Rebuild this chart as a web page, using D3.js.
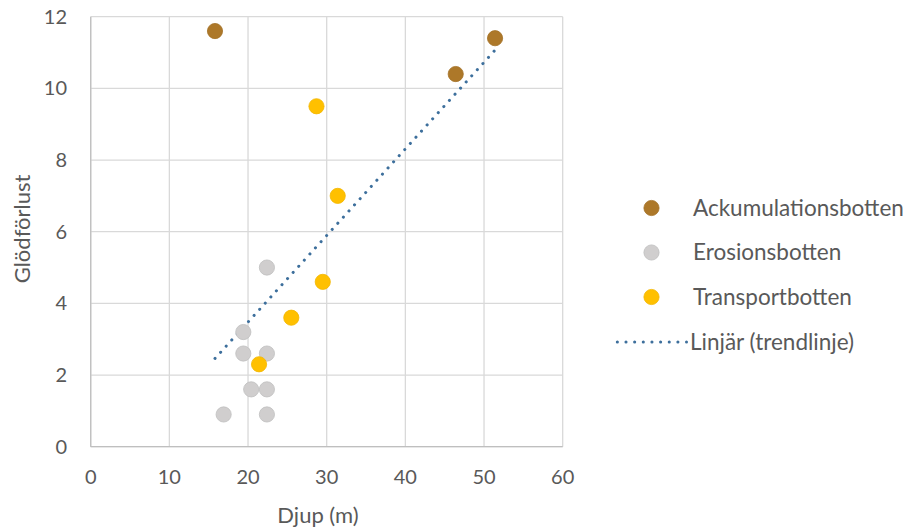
<!DOCTYPE html>
<html>
<head>
<meta charset="utf-8">
<script src="https://cdn.jsdelivr.net/npm/d3@7"></script>
<style>
  html, body { margin: 0; padding: 0; background: #fff; }
  svg { display: block; font-family: Lato, "Open Sans", sans-serif; }
</style>
</head>
<body>
<svg id="chart" width="905" height="529"></svg>
<script>
// Djup (m) and glödförlust per bottentyp
const seriesNames = ["Ackumulationsbotten", "Erosionsbotten", "Transportbotten"];
const ackDepth = [15.8, 46.4, 51.4];
const ackLoss  = [11.6, 10.4, 11.4];
const eroDepth = [22.4, 19.4, 19.4, 22.4, 20.4, 22.4, 16.9, 22.4];
const eroLoss  = [5.0, 3.2, 2.6, 2.6, 1.6, 1.6, 0.9, 0.9];
const traDepth = [28.7, 31.4, 29.5, 25.5, 21.4];
const traLoss  = [9.5, 7.0, 4.6, 3.6, 2.3];
const xTicks = [0, 10, 20, 30, 40, 50, 60];
const yTicks = [0, 2, 4, 6, 8, 10, 12];
const trendLabel = "Linjär (trendlinje)";

const colors = ["#AD7829", "#D0CECE", "#FFC000"];
const strokes = ["#A37127", "#BFBFBF", "#F2B600"];

const svg = d3.select("#chart");
const x = d3.scaleLinear().domain([0, 60]).range([90.7, 562.7]);
const y = d3.scaleLinear().domain([0, 12]).range([446.7, 16.7]);

// gridlines
svg.append("g").selectAll("line.v").data(xTicks).join("line")
  .attr("x1", d => x(d)).attr("x2", d => x(d))
  .attr("y1", y(12)).attr("y2", y(0))
  .attr("stroke", "#D9D9D9").attr("stroke-width", 1.3);
svg.append("g").selectAll("line.h").data(yTicks).join("line")
  .attr("x1", x(0)).attr("x2", x(60))
  .attr("y1", d => y(d)).attr("y2", d => y(d))
  .attr("stroke", "#D9D9D9").attr("stroke-width", 1.3);
// axis lines
svg.append("line").attr("x1", x(0)).attr("x2", x(0)).attr("y1", y(12)).attr("y2", y(0))
  .attr("stroke", "#BFBFBF").attr("stroke-width", 1.3);
svg.append("line").attr("x1", x(0)).attr("x2", x(60)).attr("y1", y(0)).attr("y2", y(0))
  .attr("stroke", "#BFBFBF").attr("stroke-width", 1.3);

// tick labels
const tickFont = 20;
svg.append("g").selectAll("text").data(xTicks).join("text")
  .attr("x", d => x(d)).attr("y", 477).attr("dy", "0.35em")
  .attr("text-anchor", "middle").attr("font-size", tickFont).attr("fill", "#595959")
  .text(d => d);
svg.append("g").selectAll("text").data(yTicks).join("text")
  .attr("x", 67).attr("y", d => y(d)).attr("dy", "0.35em")
  .attr("text-anchor", "end").attr("font-size", tickFont).attr("fill", "#595959")
  .text(d => d);

// axis titles
svg.append("text").attr("x", 318).attr("y", 515).attr("dy", "0.35em")
  .attr("text-anchor", "middle").attr("font-size", 22).attr("fill", "#595959")
  .text("Djup (m)");
svg.append("text").attr("transform", "translate(22,229) rotate(-90)").attr("dy", "0.35em")
  .attr("text-anchor", "middle").attr("font-size", 22).attr("fill", "#595959")
  .text("Glödförlust");

// linear trendline fitted to all points
const allX = ackDepth.concat(eroDepth, traDepth);
const allY = ackLoss.concat(eroLoss, traLoss);
const mx = d3.mean(allX), my = d3.mean(allY);
const slope = d3.sum(allX, (v, i) => (v - mx) * (allY[i] - my)) / d3.sum(allX, v => (v - mx) ** 2);
const icpt = my - slope * mx;
const [x0, x1] = d3.extent(allX);
svg.append("line")
  .attr("x1", x(x0)).attr("y1", y(icpt + slope * x0))
  .attr("x2", x(x1)).attr("y2", y(icpt + slope * x1))
  .attr("stroke", "#3D6F9C").attr("stroke-width", 3)
  .attr("stroke-linecap", "round").attr("stroke-dasharray", "0.1 8.2");

// markers
const groups = [
  { d: ackDepth, v: ackLoss },
  { d: eroDepth, v: eroLoss },
  { d: traDepth, v: traLoss }
];
// draw order: Erosion, Transport, Ackumulation on top
[1, 2, 0].forEach(k => {
  const g = groups[k];
  svg.append("g").selectAll("circle").data(g.d.map((d, i) => [d, g.v[i]])).join("circle")
    .attr("cx", p => x(p[0])).attr("cy", p => y(p[1])).attr("r", 7.6)
    .attr("fill", colors[k]).attr("stroke", strokes[k]).attr("stroke-width", 0.8);
});

// legend
const legY = [208, 252.5, 297, 342];
const legFont = 22.5;
const leg = svg.append("g");
seriesNames.forEach((n, i) => {
  leg.append("circle").attr("cx", 651.5).attr("cy", legY[i]).attr("r", 7.6)
    .attr("fill", colors[i]).attr("stroke", strokes[i]).attr("stroke-width", 0.8);
  leg.append("text").attr("x", 693).attr("y", legY[i]).attr("dy", "0.35em")
    .attr("font-size", legFont).attr("fill", "#595959").text(n);
});
leg.append("line").attr("x1", 617.3).attr("x2", 686.5).attr("y1", legY[3]).attr("y2", legY[3])
  .attr("stroke", "#3D6F9C").attr("stroke-width", 3)
  .attr("stroke-linecap", "round").attr("stroke-dasharray", "0.1 8.55");
leg.append("text").attr("x", 690).attr("y", legY[3]).attr("dy", "0.35em")
  .attr("font-size", legFont).attr("fill", "#595959").text(trendLabel);
</script>
</body>
</html>
